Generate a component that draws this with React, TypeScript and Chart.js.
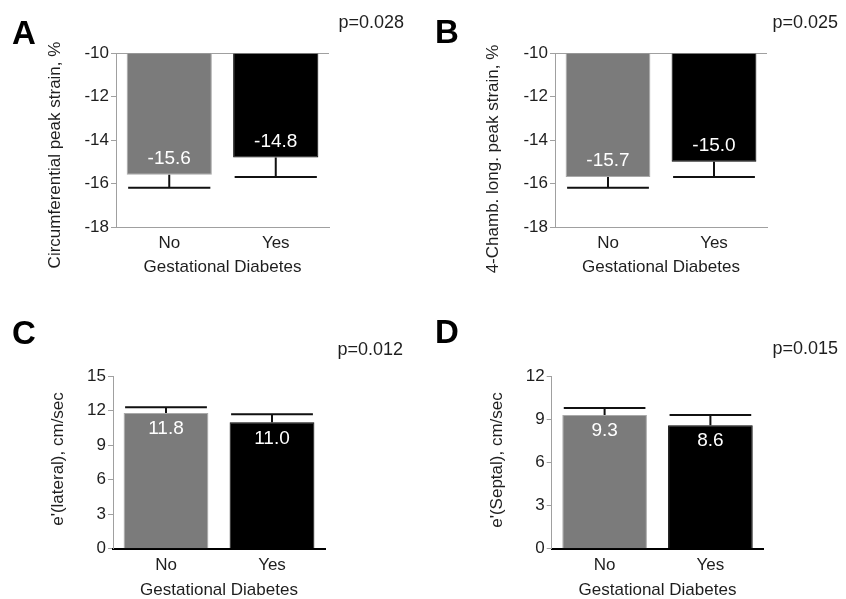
import React, { useEffect, useRef } from "react";
import { Chart, registerables } from "chart.js";

Chart.register(...registerables);

// ---------- data ----------
const categories = ["No", "Yes"];
const xAxisTitle = "Gestational Diabetes";

const panelLetters = ["A", "B", "C", "D"];
const pValues = ["p=0.028", "p=0.025", "p=0.012", "p=0.015"];
const yTitles = [
  "Circumferential peak strain, %",
  "4-Chamb. long. peak strain, %",
  "e'(lateral), cm/sec",
  "e'(Septal), cm/sec",
];

const circMeans = [-15.6, -14.8];
const circErrEnds = [-16.2, -15.7];
const longMeans = [-15.7, -15.0];
const longErrEnds = [-16.2, -15.7];
const lateralMeans = [11.8, 11.0];
const lateralErrEnds = [12.3, 11.7];
const septalMeans = [9.3, 8.6];
const septalErrEnds = [9.8, 9.3];

const strainTicks = [-18, -16, -14, -12, -10];
const lateralTicks = [0, 3, 6, 9, 12, 15];
const septalTicks = [0, 3, 6, 9, 12];

// ---------- styling / layout ----------
const FONT = '"Liberation Sans", Arial, Helvetica, sans-serif';
const TEXT = "#1e1e1e";
const GRAY_AXIS = "#a0a0a0";
const BAR_COLORS = ["#7b7b7b", "#000000"];
const BAR_BORDERS = ["#a9a9a9", "#000000"];

type Panel = {
  means: number[];
  errs: number[];
  ticks: number[];
  base: number;
  letter: string;
  p: string;
  yTitle: string;
  box: { left: number; top: number; width: number; height: number };
  area: { left: number; right: number; top: number; bottom: number };
  letterPos: [number, number];
  pPos: [number, number];
  yTitlePos: [number, number];
  topLine: boolean;
  bottomColor: string;
  bottomWidth: number;
};

const panels: Panel[] = [
  {
    means: circMeans, errs: circErrEnds, ticks: strainTicks, base: -10,
    letter: panelLetters[0], p: pValues[0], yTitle: yTitles[0],
    box: { left: 0, top: 0, width: 423, height: 276 },
    area: { left: 116, right: 329, top: 53, bottom: 227 },
    letterPos: [12, 44], pPos: [404, 28], yTitlePos: [55, 155],
    topLine: true, bottomColor: GRAY_AXIS, bottomWidth: 1,
  },
  {
    means: longMeans, errs: longErrEnds, ticks: strainTicks, base: -10,
    letter: panelLetters[1], p: pValues[1], yTitle: yTitles[1],
    box: { left: 423, top: 0, width: 423, height: 276 },
    area: { left: 132, right: 344, top: 53, bottom: 227 },
    letterPos: [12, 43], pPos: [415, 28], yTitlePos: [70, 159],
    topLine: true, bottomColor: GRAY_AXIS, bottomWidth: 1,
  },
  {
    means: lateralMeans, errs: lateralErrEnds, ticks: lateralTicks, base: 0,
    letter: panelLetters[2], p: pValues[2], yTitle: yTitles[2],
    box: { left: 0, top: 280, width: 423, height: 319 },
    area: { left: 113, right: 325, top: 96.3, bottom: 268.7 },
    letterPos: [12, 64], pPos: [403, 75], yTitlePos: [58, 179],
    topLine: false, bottomColor: "#000000", bottomWidth: 2,
  },
  {
    means: septalMeans, errs: septalErrEnds, ticks: septalTicks, base: 0,
    letter: panelLetters[3], p: pValues[3], yTitle: yTitles[3],
    box: { left: 423, top: 280, width: 423, height: 319 },
    area: { left: 128.7, right: 340.3, top: 96.3, bottom: 268.7 },
    letterPos: [12, 63], pPos: [415, 74], yTitlePos: [74, 180],
    topLine: false, bottomColor: "#000000", bottomWidth: 2,
  },
];

// ---------- plugins ----------
const barExtras = {
  id: "barExtras",
  afterDatasetsDraw(chart: any, _args: any, opts: any) {
    const { ctx } = chart;
    const meta = chart.getDatasetMeta(0);
    const yScale = chart.scales.y;
    const ds = chart.data.datasets[0];
    meta.data.forEach((bar: any, i: number) => {
      const p = bar.getProps(["x", "y", "base", "width"], true);
      const errPx = yScale.getPixelForValue(opts.errEnds[i]);
      ctx.save();
      ctx.strokeStyle = "#111";
      ctx.lineWidth = 2;
      ctx.beginPath();
      ctx.moveTo(p.x, p.y);
      ctx.lineTo(p.x, errPx);
      ctx.moveTo(p.x - p.width / 2 + 1.5, errPx);
      ctx.lineTo(p.x + p.width / 2 - 1.5, errPx);
      ctx.stroke();
      const dir = Math.sign(p.base - p.y);
      ctx.fillStyle = "#ffffff";
      ctx.font = `19px ${FONT}`;
      ctx.textAlign = "center";
      ctx.textBaseline = "middle";
      ctx.fillText(Number(ds.data[i]).toFixed(1), p.x, p.y + dir * 16);
      ctx.restore();
    });
  },
};

const panelText = {
  id: "panelText",
  afterDraw(chart: any, _args: any, opts: any) {
    const { ctx } = chart;
    ctx.save();
    ctx.fillStyle = "#000";
    ctx.font = `bold 33px ${FONT}`;
    ctx.textAlign = "left";
    ctx.textBaseline = "alphabetic";
    ctx.fillText(opts.letter, opts.letterPos[0], opts.letterPos[1]);

    ctx.fillStyle = TEXT;
    ctx.font = `18px ${FONT}`;
    ctx.textAlign = "right";
    ctx.fillText(opts.p, opts.pPos[0], opts.pPos[1]);

    ctx.translate(opts.yTitlePos[0], opts.yTitlePos[1]);
    ctx.rotate(-Math.PI / 2);
    ctx.font = `17px ${FONT}`;
    ctx.textAlign = "center";
    ctx.textBaseline = "middle";
    ctx.fillText(opts.yTitle, 0, 0);
    ctx.restore();
  },
};

function PanelChart({ panel }: { panel: Panel }) {
  const ref = useRef<HTMLCanvasElement | null>(null);
  useEffect(() => {
    if (!ref.current) return;
    const { box, area } = panel;
    const yMin = Math.min(...panel.ticks);
    const yMax = Math.max(...panel.ticks);
    const chart = new Chart(ref.current, {
      type: "bar",
      data: {
        labels: categories,
        datasets: [
          {
            data: panel.means,
            base: panel.base,
            backgroundColor: BAR_COLORS,
            borderColor: BAR_BORDERS,
            borderWidth: 1,
            barPercentage: 0.8,
            categoryPercentage: 1,
          } as any,
        ],
      },
      options: {
        responsive: false,
        animation: false,
        events: [],
        layout: {
          padding: { left: 0, top: area.top, right: box.width - area.right, bottom: 0 },
        },
        plugins: {
          legend: { display: false },
          tooltip: { enabled: false },
          title: { display: false },
          barExtras: { errEnds: panel.errs },
          panelText: {
            letter: panel.letter,
            p: panel.p,
            yTitle: panel.yTitle,
            letterPos: panel.letterPos,
            pPos: panel.pPos,
            yTitlePos: panel.yTitlePos,
          },
        } as any,
        scales: {
          x: {
            z: 1,
            grid: { display: false, drawTicks: false },
            border: { display: true, color: panel.bottomColor, width: panel.bottomWidth },
            ticks: { color: TEXT, font: { size: 17, family: FONT }, padding: 6 },
            title: {
              display: true,
              text: xAxisTitle,
              color: TEXT,
              font: { size: 17, family: FONT, lineHeight: 1 },
              padding: { top: 0, bottom: 0 },
            },
            afterFit: (scale: any) => {
              scale.height = box.height - area.bottom;
            },
          },
          y: {
            min: yMin,
            max: yMax,
            grid: {
              drawOnChartArea: panel.topLine,
              color: (c: any) =>
                panel.topLine && c.tick && c.tick.value === yMax ? GRAY_AXIS : "rgba(0,0,0,0)",
              tickColor: GRAY_AXIS,
              tickLength: 5,
              lineWidth: 1,
            },
            border: { display: true, color: GRAY_AXIS, width: 1 },
            ticks: { color: TEXT, font: { size: 17, family: FONT }, padding: 2 },
            afterBuildTicks: (scale: any) => {
              scale.ticks = panel.ticks.map((v) => ({ value: v }));
            },
            afterFit: (scale: any) => {
              scale.width = area.left;
            },
          },
        },
      },
      plugins: [barExtras, panelText],
    } as any);
    return () => chart.destroy();
  }, [panel]);

  return (
    <canvas
      ref={ref}
      width={panel.box.width}
      height={panel.box.height}
      style={{
        position: "absolute",
        left: panel.box.left,
        top: panel.box.top,
        width: panel.box.width,
        height: panel.box.height,
      }}
    />
  );
}

export default function App() {
  return (
    <div
      style={{
        position: "absolute",
        left: 0,
        top: 0,
        width: 846,
        height: 599,
        background: "#ffffff",
        overflow: "hidden",
      }}
    >
      {panels.map((p, i) => (
        <PanelChart key={i} panel={p} />
      ))}
    </div>
  );
}
